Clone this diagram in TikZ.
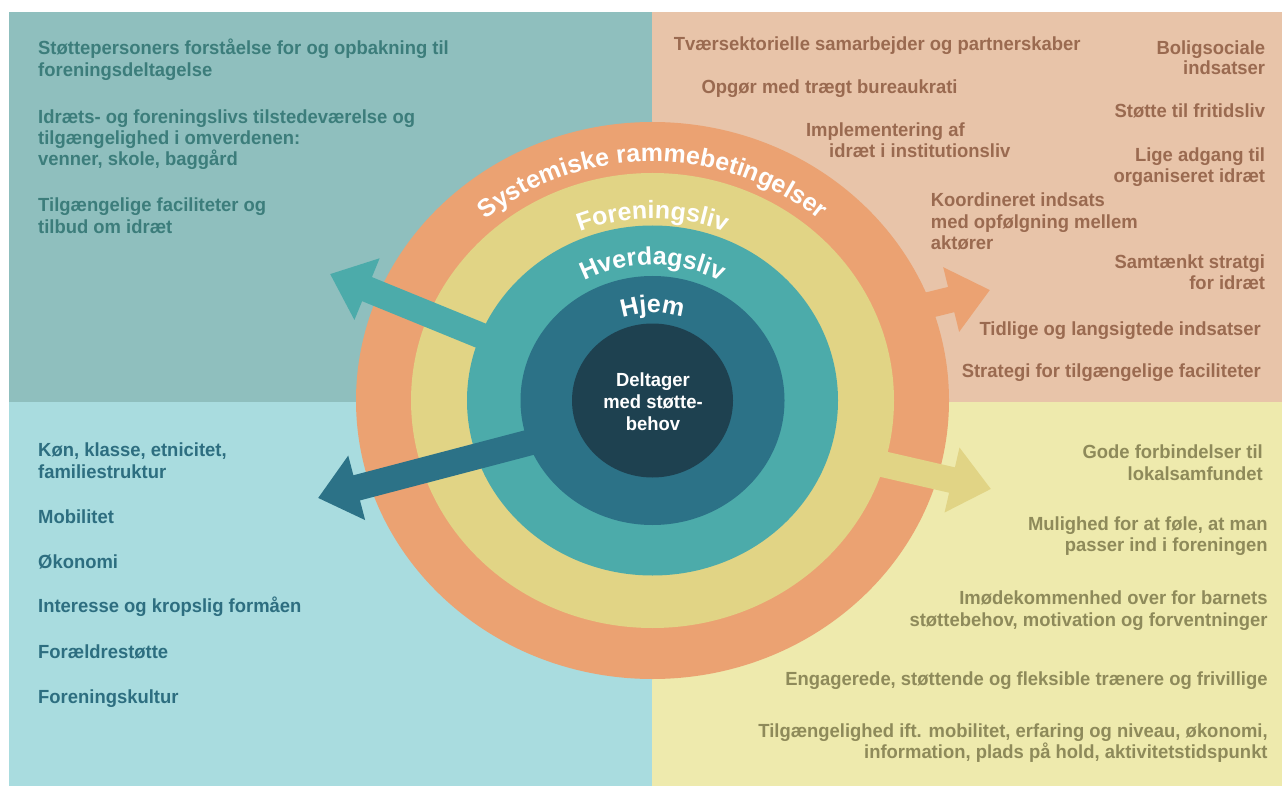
\documentclass[tikz,border=0pt]{standalone}
\usepackage{fontspec}
\setmainfont{Liberation Sans}
\newfontfamily\qfont[FakeStretch=0.97]{Liberation Sans}
\newfontfamily\rfont{Liberation Sans}
\usetikzlibrary{arrows.meta,decorations.text}
\definecolor{bgTL}{HTML}{8FBFBE}
\definecolor{bgTR}{HTML}{E8C4A9}
\definecolor{bgBL}{HTML}{A9DCDF}
\definecolor{bgBR}{HTML}{EEEAAD}
\definecolor{ringO}{HTML}{EBA272}
\definecolor{ringY}{HTML}{E1D485}
\definecolor{ringT}{HTML}{4CABAA}
\definecolor{ringD}{HTML}{2C7287}
\definecolor{ringC}{HTML}{1E4150}
\definecolor{txTL}{HTML}{3C7D7B}
\definecolor{txTR}{HTML}{9A6A50}
\definecolor{txBL}{HTML}{2D6E80}
\definecolor{txBR}{HTML}{8E8A5A}
\tikzset{
  qtxt/.style={inner sep=0pt, font=\qfont\bfseries\fontsize{19}{22}\selectfont},
  tlt/.style={qtxt, text=txTL, anchor=base west},
  trl/.style={qtxt, text=txTR, anchor=base west},
  trr/.style={qtxt, text=txTR, anchor=base east},
  blt/.style={qtxt, text=txBL, anchor=base west},
  brt/.style={qtxt, text=txBR, anchor=base east},
  ctrtxt/.style={qtxt, text=white, anchor=base},
  bigarrow/.style={line width=26pt, -{Triangle[length=40pt,width=64pt]}},
  ringlabel/.style={decorate, decoration={text along path, text align=center, text color=white,
      text={|\rfont\bfseries\fontsize{25}{25}\selectfont|#1}}},
}
\begin{document}
\begin{tikzpicture}[x=1pt,y=-1pt]
\useasboundingbox (0,0) rectangle (1282,786);
\fill[white] (0,0) rectangle (1282,786);
\fill[bgTL] (9,12) rectangle (652,402);
\fill[bgTR] (652,12) rectangle (1282,402);
\fill[bgBL] (9,402) rectangle (652,786);
\fill[bgBR] (652,402) rectangle (1282,786);
\coordinate (C) at (652.5,400.5);
\coordinate (oS) at (860,322); \coordinate (oT) at (990,290);
\coordinate (yS) at (830,452); \coordinate (yT) at (991,489);
\coordinate (tS) at (547.6,362.9); \coordinate (tT) at (330,274);
\coordinate (dS) at (600,424); \coordinate (dT) at (318,498);
\fill[ringO] (C) ellipse [x radius=296.5pt, y radius=278.5pt];
\draw[bigarrow, ringO] (oS) -- (oT);
\draw[bigarrow, ringY] (yS) -- (yT);
\fill[ringY] (C) ellipse [x radius=241.5pt, y radius=227.5pt];
\draw[bigarrow, ringT] (tS) -- (tT);
\fill[ringT] (C) ellipse [x radius=185.5pt, y radius=175pt];
\fill[ringD] (C) ellipse [x radius=132pt, y radius=124.5pt];
\draw[bigarrow, ringD] (dS) -- (dT);
\fill[ringC] (C) ellipse [x radius=80.5pt, y radius=77pt];
% ring labels
\path[ringlabel={Systemiske rammebetingelser}] ([shift={(160:254pt and 239pt)}]C) arc[start angle=160, end angle=20, x radius=254pt, y radius=239pt];
\path[ringlabel={Foreningsliv}] ([shift={(160:194pt and 182pt)}]C) arc[start angle=160, end angle=20, x radius=194pt, y radius=182pt];
\path[ringlabel={Hverdagsliv}] ([shift={(160:144pt and 135.5pt)}]C) arc[start angle=160, end angle=20, x radius=144pt, y radius=135.5pt];
\path[ringlabel={Hjem}] ([shift={(160:93pt and 87.5pt)}]C) arc[start angle=160, end angle=20, x radius=93pt, y radius=87.5pt];
% centre
\node[ctrtxt] (c1) at (653,386) {Deltager};
\node[ctrtxt] (c2) at (653,408.3) {med støtte-};
\node[ctrtxt] (c3) at (653,430.7) {behov};
% top left
\node[tlt] (tl1) at (38,55) {Støttepersoners forståelse for og opbakning til};
\node[tlt] (tl2) at (38,76.7) {foreningsdeltagelse};
\node[tlt] (tl3) at (38,123.3) {Idræts- og foreningslivs tilstedeværelse og};
\node[tlt] (tl4) at (38,145) {tilgængelighed i omverdenen:};
\node[tlt] (tl5) at (38,165.7) {venner, skole, baggård};
\node[tlt] (tl6) at (38,211.7) {Tilgængelige faciliteter og};
\node[tlt] (tl7) at (38,233.3) {tilbud om idræt};
% top right
\node[trl] (tr1) at (673.6,50.7) {Tværsektorielle samarbejder og partnerskaber};
\node[trl] (tr2) at (701.4,94) {Opgør med trægt bureaukrati};
\node[trl] (tr3) at (805.8,136.7) {Implementering af};
\node[trl] (tr4) at (829,157.7) {idræt i institutionsliv};
\node[trl] (tr5) at (930.7,206.7) {Koordineret indsats};
\node[trl] (tr6) at (930.7,228.3) {med opfølgning mellem};
\node[trl] (tr7) at (930.7,249.3) {aktører};
\node[trr] (tr8) at (1265.3,55) {Boligsociale};
\node[trr] (tr9) at (1265.3,75) {indsatser};
\node[trr] (tr10) at (1265.3,117.3) {Støtte til fritidsliv};
\node[trr] (tr11) at (1265.3,161.7) {Lige adgang til};
\node[trr] (tr12) at (1265.3,182.7) {organiseret idræt};
\node[trr] (tr13) at (1265.3,268.3) {Samtænkt stratgi};
\node[trr] (tr14) at (1265.3,289.3) {for idræt};
\node[trr] (tr15) at (1261,335) {Tidlige og langsigtede indsatser};
\node[trr] (tr16) at (1261,377.3) {Strategi for tilgængelige faciliteter};
% bottom left
\node[blt] (bl1) at (38,456.7) {Køn, klasse, etnicitet,};
\node[blt] (bl2) at (38,478.3) {familiestruktur};
\node[blt] (bl3) at (38,523.3) {Mobilitet};
\node[blt] (bl4) at (38,568.3) {Økonomi};
\node[blt] (bl5) at (38,612.7) {Interesse og kropslig formåen};
\node[blt] (bl6) at (38,658.3) {Forældrestøtte};
\node[blt] (bl7) at (38,703.3) {Foreningskultur};
% bottom right
\node[brt] (br1) at (1263,458.3) {Gode forbindelser til};
\node[brt] (br2) at (1263,480) {lokalsamfundet};
\node[brt] (br3) at (1267.8,530) {Mulighed for at føle, at man};
\node[brt] (br4) at (1267.8,551.7) {passer ind i foreningen};
\node[brt] (br5) at (1267.8,604) {Imødekommenhed over for barnets};
\node[brt] (br6) at (1267.8,626.7) {støttebehov, motivation og forventninger};
\node[brt] (br7) at (1267.8,685) {Engagerede, støttende og fleksible trænere og frivillige};
\node[brt] (br8) at (1267.8,737.3) {Tilgængelighed ift. mobilitet, erfaring og niveau, økonomi,};
\node[brt] (br9) at (1267.8,758.3) {information, plads på hold, aktivitetstidspunkt};
\end{tikzpicture}
\end{document}
